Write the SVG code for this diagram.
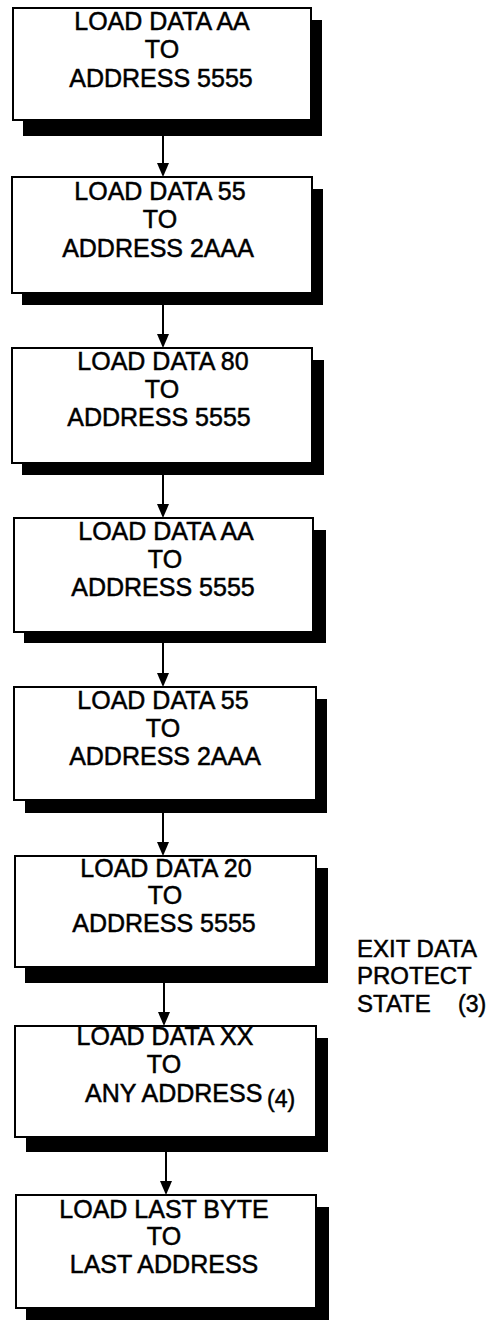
<svg xmlns="http://www.w3.org/2000/svg" width="489" height="1320" viewBox="0 0 489 1320">
<style>
.box{fill:#fff;stroke:#000;stroke-width:2}
.sh{fill:#000}
text{font-family:"Liberation Sans",Arial,sans-serif;font-size:25px;fill:#000;stroke:#000;stroke-width:0.5}
.c{text-anchor:middle}
.sm{font-size:23px}
.conn{stroke:#000;stroke-width:2;fill:none}
</style>
<rect width="489" height="1320" fill="#fff"/>
<g id="connectors">
<line class="conn" x1="163" y1="136" x2="163" y2="165"/>
<line class="conn" x1="163" y1="305" x2="163" y2="336"/>
<line class="conn" x1="163" y1="475" x2="163" y2="506"/>
<line class="conn" x1="163" y1="643" x2="163" y2="675"/>
<line class="conn" x1="163" y1="813" x2="163" y2="844"/>
<line class="conn" x1="164" y1="983" x2="164" y2="1014"/>
<line class="conn" x1="166" y1="1152" x2="166" y2="1183"/>
<polygon points="157,163 169,163 163,177" fill="#000"/>
<polygon points="157,334 169,334 163,348" fill="#000"/>
<polygon points="157,504 169,504 163,518" fill="#000"/>
<polygon points="157,673 169,673 163,687" fill="#000"/>
<polygon points="157,842 169,842 163,856" fill="#000"/>
<polygon points="158,1012 170,1012 164,1026" fill="#000"/>
<polygon points="160,1181 172,1181 166,1195" fill="#000"/>
</g>
<g id="n1">
<rect class="sh" x="23" y="20" width="299" height="116"/>
<rect class="box" x="13" y="8" width="298" height="112"/>
<text class="c" x="162" y="30">LOAD DATA AA</text>
<text class="c" x="162" y="58">TO</text>
<text class="c" x="161" y="87">ADDRESS 5555</text>
</g>
<g id="n2">
<rect class="sh" x="22" y="189" width="301" height="116"/>
<rect class="box" x="12" y="177" width="300" height="116"/>
<text class="c" x="160" y="200">LOAD DATA 55</text>
<text class="c" x="160" y="228">TO</text>
<text class="c" x="158" y="257">ADDRESS 2AAA</text>
</g>
<g id="n3">
<rect class="sh" x="22" y="360" width="302" height="115"/>
<rect class="box" x="12" y="348" width="300" height="115"/>
<text class="c" x="163" y="370">LOAD DATA 80</text>
<text class="c" x="162" y="398">TO</text>
<text class="c" x="159" y="426">ADDRESS 5555</text>
</g>
<g id="n4">
<rect class="sh" x="24" y="530" width="302" height="113"/>
<rect class="box" x="14" y="518" width="299" height="114"/>
<text class="c" x="166" y="540">LOAD DATA AA</text>
<text class="c" x="165" y="568">TO</text>
<text class="c" x="163" y="596">ADDRESS 5555</text>
</g>
<g id="n5">
<rect class="sh" x="25" y="699" width="302" height="114"/>
<rect class="box" x="14" y="687" width="302" height="113"/>
<text class="c" x="163" y="709">LOAD DATA 55</text>
<text class="c" x="163" y="737">TO</text>
<text class="c" x="165" y="765">ADDRESS 2AAA</text>
</g>
<g id="n6">
<rect class="sh" x="25" y="868" width="303" height="115"/>
<rect class="box" x="15" y="856" width="301" height="111"/>
<text class="c" x="166" y="877">LOAD DATA 20</text>
<text class="c" x="165" y="904">TO</text>
<text class="c" x="164" y="932">ADDRESS 5555</text>
</g>
<g id="n7">
<rect class="sh" x="26" y="1038" width="302" height="114"/>
<rect class="box" x="15" y="1026" width="301" height="111"/>
<text class="c" x="165" y="1045">LOAD DATA XX</text>
<text class="c" x="164" y="1073">TO</text>
<text x="85" y="1102">ANY ADDRESS</text>
<text class="sm" x="267" y="1107">(4)</text>
</g>
<g id="n8">
<rect class="sh" x="26" y="1207" width="303" height="116"/>
<rect class="box" x="16" y="1195" width="300" height="113"/>
<text class="c" x="164" y="1218">LOAD LAST BYTE</text>
<text class="c" x="164" y="1245">TO</text>
<text class="c" x="164" y="1273">LAST ADDRESS</text>
</g>
<g id="note">
<text x="357" y="957" style="font-size:24px">EXIT DATA</text>
<text x="357" y="984" style="font-size:24px">PROTECT</text>
<text x="357" y="1012" style="font-size:24px">STATE</text>
<text class="sm" x="458" y="1012">(3)</text>
</g>
</svg>
